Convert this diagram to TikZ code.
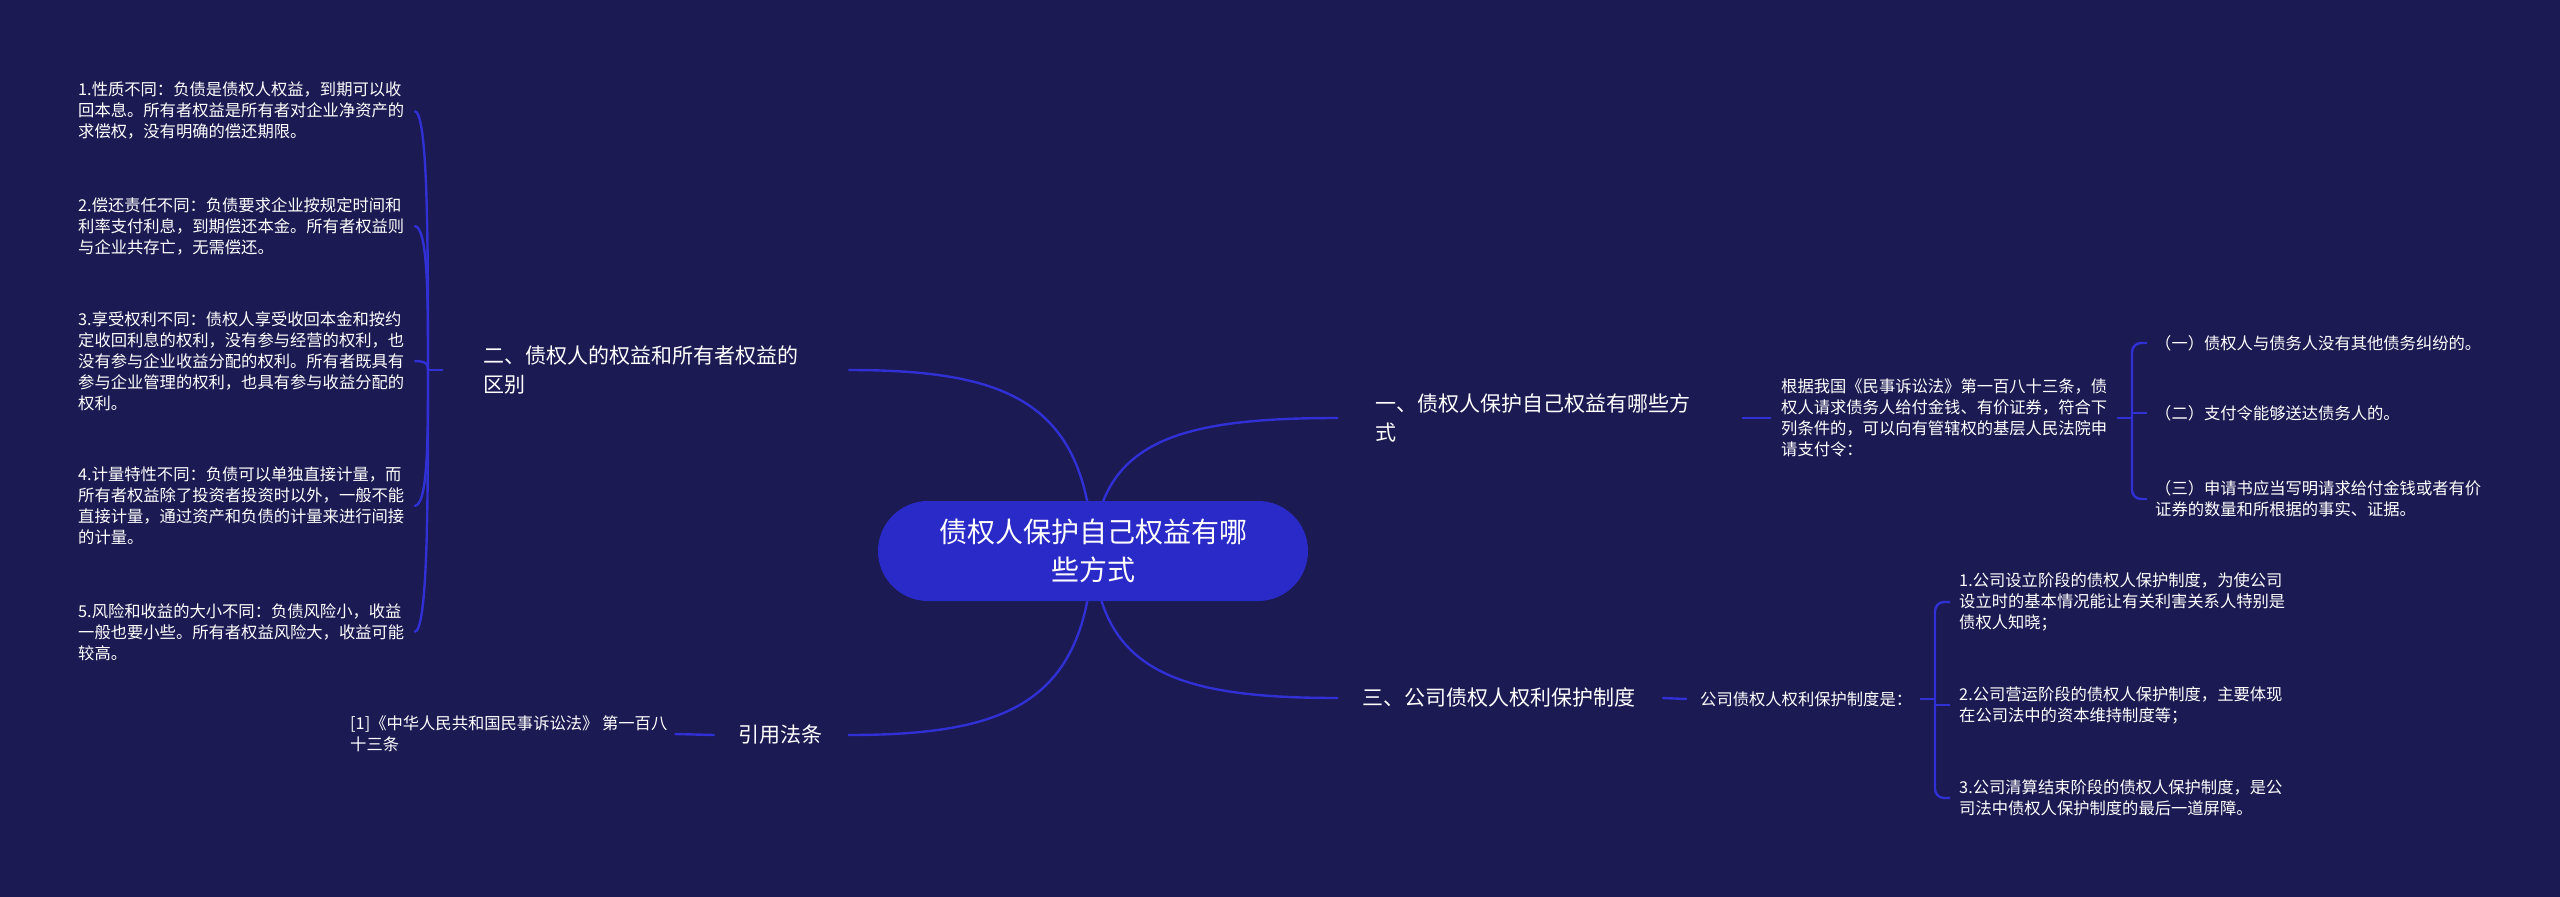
\documentclass[tikz,border=0pt]{standalone}
\usepackage{fontspec}
\newfontfamily\cjkf{Noto Sans CJK SC}
\usetikzlibrary{calc}
\pgfdeclarelayer{back}
\pgfdeclarelayer{lines}
\pgfsetlayers{back,lines,main}
\definecolor{bgc}{RGB}{27,26,82}
\definecolor{rootc}{RGB}{42,42,200}
\definecolor{linec}{RGB}{48,48,212}
\begin{document}
\begin{tikzpicture}[x=1pt,y=-1pt,
 conn/.style={draw=linec,line width=2.4pt},
 rootbox/.style={fill=rootc,rounded corners=50pt,minimum width=430pt,minimum height=100pt,inner sep=0pt,text=white,align=center,font={\cjkf\fontsize{28}{38}\selectfont}},
 branch/.style={text=white,inner sep=0pt,align=left,font={\cjkf\fontsize{21}{29}\selectfont}},
 leaf/.style={text=white,inner sep=0pt,align=left,font={\cjkf\fontsize{16.3}{21}\selectfont}},
]
\begin{pgfonlayer}{back}
\fill[bgc] (0,0) rectangle (2560,897);
\end{pgfonlayer}
\useasboundingbox (0,0) rectangle (2560,897);

% root
\node[rootbox] (root) at (1093,551) {债权人保护自己权益有哪\\些方式};

% branch 1
\node[branch,anchor=west] (B1) at (1375,418) {一、债权人保护自己权益有哪些方\\式};
\node[leaf,anchor=west] (G) at (1781,418) {根据我国《民事诉讼法》第一百八十三条，债\\权人请求债务人给付金钱、有价证券，符合下\\列条件的，可以向有管辖权的基层人民法院申\\请支付令：};
\node[leaf,anchor=west] (R1) at (2155,343) {（一）债权人与债务人没有其他债务纠纷的。};
\node[leaf,anchor=west] (R2) at (2155,413) {（二）支付令能够送达债务人的。};
\node[leaf,anchor=west] (R3) at (2155,499) {（三）申请书应当写明请求给付金钱或者有价\\证券的数量和所根据的事实、证据。};
\coordinate (hR) at (2132,418);

% branch 3
\node[branch,anchor=west] (B3) at (1362,698) {三、公司债权人权利保护制度};
\node[leaf,anchor=west] (S) at (1700,699) {公司债权人权利保护制度是：};
\coordinate (hS) at (1935,699);
\node[leaf,anchor=west] (T1) at (1959,602) {1.公司设立阶段的债权人保护制度，为使公司\\设立时的基本情况能让有关利害关系人特别是\\债权人知晓；};
\node[leaf,anchor=west] (T2) at (1959,705) {2.公司营运阶段的债权人保护制度，主要体现\\在公司法中的资本维持制度等；};
\node[leaf,anchor=west] (T3) at (1959,798) {3.公司清算结束阶段的债权人保护制度，是公\\司法中债权人保护制度的最后一道屏障。};

% branch 2
\node[branch,anchor=west] (B2) at (483,370) {二、债权人的权益和所有者权益的\\区别};
\coordinate (hL) at (428,370);
\node[leaf,anchor=west] (L1) at (78,111) {1.性质不同：负债是债权人权益，到期可以收\\回本息。所有者权益是所有者对企业净资产的\\求偿权，没有明确的偿还期限。};
\node[leaf,anchor=west] (L2) at (78,226) {2.偿还责任不同：负债要求企业按规定时间和\\利率支付利息，到期偿还本金。所有者权益则\\与企业共存亡，无需偿还。};
\node[leaf,anchor=west] (L3) at (78,361) {3.享受权利不同：债权人享受收回本金和按约\\定收回利息的权利，没有参与经营的权利，也\\没有参与企业收益分配的权利。所有者既具有\\参与企业管理的权利，也具有参与收益分配的\\权利。};
\node[leaf,anchor=west] (L4) at (78,506) {4.计量特性不同：负债可以单独直接计量，而\\所有者权益除了投资者投资时以外，一般不能\\直接计量，通过资产和负债的计量来进行间接\\的计量。};
\node[leaf,anchor=west] (L5) at (78,632) {5.风险和收益的大小不同：负债风险小，收益\\一般也要小些。所有者权益风险大，收益可能\\较高。};

% branch 4
\node[branch,anchor=east] (Y) at (823,735) {引用法条};
\node[leaf,anchor=west] (Y2) at (350,734) {[1]《中华人民共和国民事诉讼法》 第一百八\\十三条};

\begin{pgfonlayer}{lines}
% root curves
\draw[conn] (root.center) .. controls +(7,-111) and +(-158,0) .. ([xshift=-37]B1.west);
\draw[conn] (root.center) .. controls +(7,122) and +(-158,0) .. ([xshift=-24]B3.west);
\draw[conn] (root.center) .. controls +(-7,-150) and +(158,0) .. ([xshift=50]B2.east);
\draw[conn] (root.center) .. controls +(-7,153) and +(158,0) .. ([xshift=25]Y.east);

% branch 1 subtree
\draw[conn] ([xshift=52]B1.east) -- ([xshift=-10]G.west);
\draw[conn] ([xshift=10]G.east) -- (hR);
\draw[conn,rounded corners=9pt] ([xshift=-8]R1.west) -| (hR) |- ([xshift=-8]R3.west);
\draw[conn] (hR|-R2.west) -- ([xshift=-8]R2.west);

% branch 3 subtree
\draw[conn] ([xshift=27]B3.east) -- ([xshift=-13]S.west);
\draw[conn] ([xshift=8]S.east) -- (hS);
\draw[conn,rounded corners=9pt] ([xshift=-9]T1.west) -| (hS) |- ([xshift=-9]T3.west);
\draw[conn] (hS|-T2.west) -- ([xshift=-9]T2.west);

% branch 2 subtree
\draw[conn] (hL) -- ([xshift=-40]B2.west);
\foreach \n in {L1,L2,L3,L4,L5}{
  \draw[conn] ([xshift=10]\n.east) .. controls (hL|-\n.east) and ($(hL)!0.5!(hL|-\n.east)$) .. (hL);
}

% branch 4 subtree
\draw[conn] ([xshift=-24]Y.west) -- ([xshift=7]Y2.east);
\end{pgfonlayer}
\end{tikzpicture}
\end{document}
